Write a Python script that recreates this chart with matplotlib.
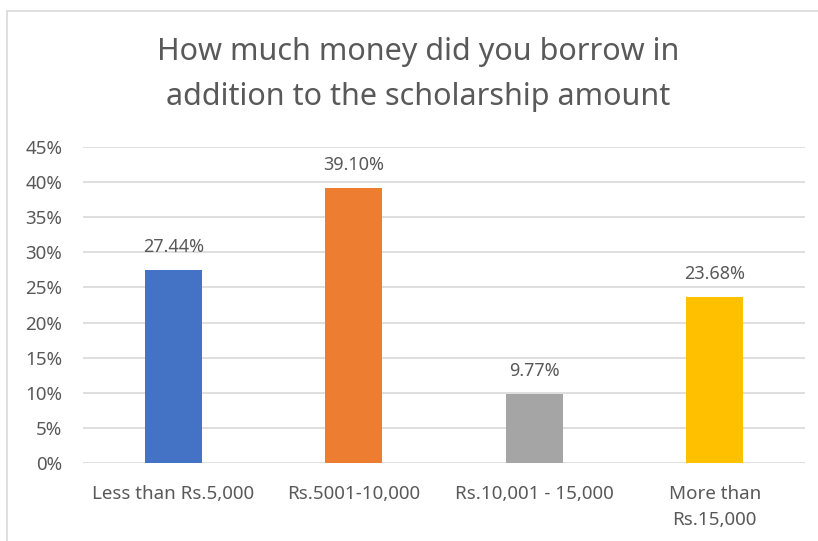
import matplotlib.pyplot as plt
from matplotlib.patches import Rectangle

categories = ['Less than Rs.5,000', 'Rs.5001-10,000', 'Rs.10,001 - 15,000', 'More than\nRs.15,000']
values = [27.44, 39.10, 9.77, 23.68]
colors = ['#4472C4', '#ED7D31', '#A5A5A5', '#FFC000']
yticks = [0, 5, 10, 15, 20, 25, 30, 35, 40, 45]

plt.rcParams['font.family'] = ['Noto Sans', 'DejaVu Sans']
txt = '#595959'

fig = plt.figure(figsize=(8.18, 5.41), dpi=100)
W, H = 818, 541
# chart frame (only top and left edges visible)
fig.patches.append(Rectangle((7 / W, -0.1), 1.2, 1 - 11 / H + 0.1, transform=fig.transFigure,
                             fill=False, edgecolor='#D9D9D9', linewidth=1.2))

ax = fig.add_axes([83 / W, 1 - 463 / H, (805 - 83) / W, (463 - 147) / H])
x = range(len(categories))
ax.bar(x, values, width=0.316, color=colors, zorder=3)
for i, v in enumerate(values):
    ax.text(i, v + 2.0, '%.2f%%' % v, ha='center', va='bottom', fontsize=13, color=txt)

ax.set_xlim(-0.5, 3.5)
ax.set_ylim(0, 45)
ax.set_yticks(yticks)
ax.set_yticklabels(['%d%%' % t for t in yticks])
ax.set_xticks(list(x))
ax.set_xticklabels(categories, linespacing=1.55)
ax.tick_params(axis='both', length=0, colors=txt, labelsize=13.5)
ax.tick_params(axis='y', pad=15)
ax.tick_params(axis='x', pad=16)
ax.grid(axis='y', color='#D9D9D9', linewidth=1.2, zorder=0)
for s in ax.spines.values():
    s.set_visible(False)

fig.text(418 / W, 1 - 52 / H, 'How much money did you borrow in',
         ha='center', va='center', fontsize=22, color=txt)
fig.text(418 / W, 1 - 97 / H, 'addition to the scholarship amount',
         ha='center', va='center', fontsize=22, color=txt)

fig.savefig('out.png', dpi=100)
